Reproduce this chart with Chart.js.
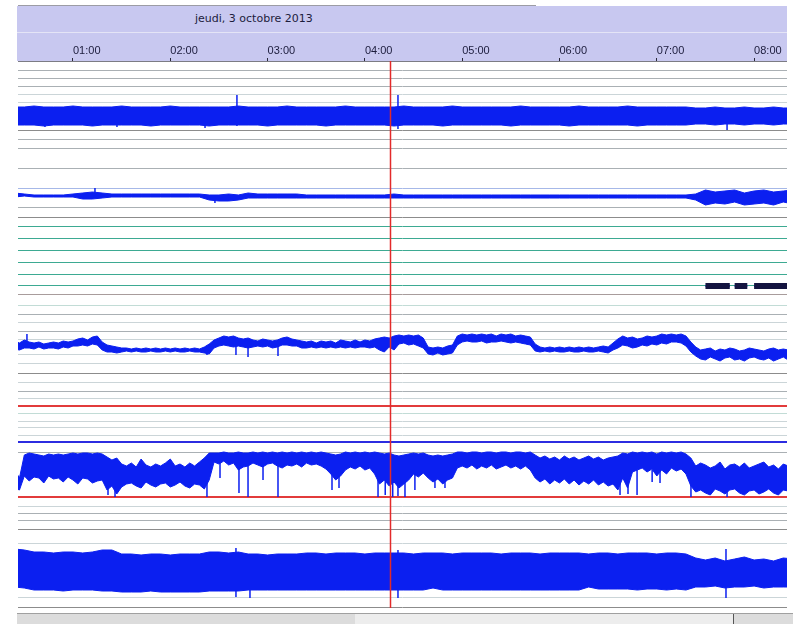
<!DOCTYPE html>
<html lang="fr">
<head>
<meta charset="utf-8">
<title>Enregistrement nocturne</title>
<script src="https://cdn.jsdelivr.net/npm/chart.js@4.4.1/dist/chart.umd.min.js"></script>
<style>
  html, body { margin: 0; padding: 0; background: #fff; }
  body { position: relative; width: 793px; height: 624px; overflow: hidden; }
  .abs { position: absolute; }
  #topRule { left: 18px; top: 5px; width: 518px; height: 1px; background: #9c9ca4; }
  #header { left: 17px; top: 6px; width: 770px; height: 55px; background: #c8c8f0; }
  #headerSep { left: 17px; top: 32px; width: 770px; height: 1px; background: #e4e4f6; }
  #date { left: 195px; top: 12px; font: 11px "DejaVu Sans", sans-serif; color: #1c1c3c; white-space: nowrap; }
  canvas { position: absolute; left: 18px; }
  #scroll { left: 17px; top: 613px; width: 776px; height: 11px; background: #dcdcdc; border-top: 1px solid #a0a0a0; }
  #thumb { left: 355px; top: 614px; width: 378px; height: 10px; background: #ededed; border-right: 1px solid #555; }
</style>
</head>
<body>
<div id="topRule" class="abs"></div>
<div id="header" class="abs"></div>
<div id="headerSep" class="abs"></div>
<div id="date" class="abs">jeudi, 3 octobre 2013</div>
<canvas id="c-eeg" width="769" height="127" style="top:33px"></canvas>
<canvas id="c-flow" width="769" height="62" style="top:160px"></canvas>
<canvas id="c-pos" width="769" height="78" style="top:222px"></canvas>
<canvas id="c-thorax" width="769" height="78" style="top:300px"></canvas>
<canvas id="c-spo2" width="769" height="140" style="top:378px"></canvas>
<canvas id="c-abdo" width="769" height="90" style="top:518px"></canvas>
<div id="scroll" class="abs"></div>
<div id="thumb" class="abs"></div>
<script>
// ---- time axis (hours after midnight) ----
const viewStart = 0.435;
const viewEnd = 8.338;
const hourTicks = [1, 2, 3, 4, 5, 6, 7, 8];
const cursorHour = 4.258;

// sampling instants of the decimated envelopes (6-minute bins)
const hours = [0.4,0.5,0.6,0.7,0.8,0.9,1.0,1.1,1.2,1.3,1.4,1.5,1.6,1.7,1.8,1.9,2.0,2.1,2.2,2.3,
  2.4,2.5,2.6,2.7,2.8,2.9,3.0,3.1,3.2,3.3,3.4,3.5,3.6,3.7,3.8,3.9,4.0,4.1,4.2,4.3,
  4.4,4.5,4.6,4.7,4.8,4.9,5.0,5.1,5.2,5.3,5.4,5.5,5.6,5.7,5.8,5.9,6.0,6.1,6.2,6.3,
  6.4,6.5,6.6,6.7,6.8,6.9,7.0,7.1,7.2,7.3,7.4,7.5,7.6,7.7,7.8,7.9,8.0,8.1,8.2,8.3,8.4];

// finer sampling (3-minute bins) for the respiratory channels
const fineHours = [0.40,0.45,0.50,0.55,0.60,0.65,0.70,0.75,0.80,0.85,0.90,0.95,1.00,1.05,1.10,1.15,1.20,1.25,1.30,1.35,
  1.40,1.45,1.50,1.55,1.60,1.65,1.70,1.75,1.80,1.85,1.90,1.95,2.00,2.05,2.10,2.15,2.20,2.25,2.30,2.35,
  2.40,2.45,2.50,2.55,2.60,2.65,2.70,2.75,2.80,2.85,2.90,2.95,3.00,3.05,3.10,3.15,3.20,3.25,3.30,3.35,
  3.40,3.45,3.50,3.55,3.60,3.65,3.70,3.75,3.80,3.85,3.90,3.95,4.00,4.05,4.10,4.15,4.20,4.25,4.30,4.35,
  4.40,4.45,4.50,4.55,4.60,4.65,4.70,4.75,4.80,4.85,4.90,4.95,5.00,5.05,5.10,5.15,5.20,5.25,5.30,5.35,
  5.40,5.45,5.50,5.55,5.60,5.65,5.70,5.75,5.80,5.85,5.90,5.95,6.00,6.05,6.10,6.15,6.20,6.25,6.30,6.35,
  6.40,6.45,6.50,6.55,6.60,6.65,6.70,6.75,6.80,6.85,6.90,6.95,7.00,7.05,7.10,7.15,7.20,7.25,7.30,7.35,
  7.40,7.45,7.50,7.55,7.60,7.65,7.70,7.75,7.80,7.85,7.90,7.95,8.00,8.05,8.10,8.15,8.20,8.25,8.30,8.35,
  8.40];

// EEG channel: max / min per bin, and isolated artefacts [hour, top, bottom]
const eegHigh = [9,9,10,9,9,9,10,9,9,9, 9,10,9,9,9,9,10,9,9,9, 9,9,9,10,9,9,9,9,10,9,
  9,9,9,9,10,9,9,9,9,9, 10,9,9,9,9,10,9,9,9,9, 9,9,10,9,9,9,9,9,10,9,
  9,9,9,10,9,9,9,9,9,9, 8,8,9,8,8,9,8,8,9,8, 8];
const eegLow = [-9,-9,-9,-10,-9,-9,-9,-9,-10,-9, -9,-9,-9,-9,-10,-9,-9,-9,-9,-9, -10,-9,-9,-9,-9,-9,-10,-9,-9,-9,
  -9,-9,-10,-9,-9,-9,-9,-9,-9,-10, -9,-9,-9,-9,-10,-9,-9,-9,-9,-9, -9,-10,-9,-9,-9,-9,-9,-10,-9,-9,
  -9,-9,-9,-9,-10,-9,-9,-9,-9,-9, -8,-8,-9,-8,-8,-9,-8,-8,-9,-8, -8];
const eegSpikes = [[0.712, 0, -11], [1.452, 0, -11], [2.357, 0, -12], [2.685, 21, -10], [4.340, 21, -13], [7.722, 0, -14]];

// airflow channel
const flowHigh = [3,2,1,1,1,1,2,3,4,3, 2,2,2,2,2,2,2,2,2,2, 1,1,2,1,3,2,2,2,2,2,
  1,1,1,1,1,1,1,1,1,2, 1,1,1,1,1,1,1,1,1,1, 1,1,1,1,1,1,1,1,1,1,
  1,1,1,1,1,1,1,1,1,1, 2,6,4,5,6,3,5,6,4,5, 6];
const flowLow = [-1,0,-1,-1,-1,-1,-1,-3,-3,-2, -1,-1,-1,-1,-1,-1,-1,-1,-1,-1, -4,-5,-5,-4,-2,-2,-2,-2,-2,-2,
  -2,-2,-2,-2,-2,-2,-2,-2,-2,-2, -2,-2,-2,-2,-2,-2,-2,-2,-2,-2, -2,-2,-2,-2,-2,-2,-2,-2,-2,-2,
  -2,-2,-2,-2,-2,-2,-2,-2,-2,-2, -4,-9,-7,-8,-6,-9,-8,-7,-9,-6, -8];
const flowSpikes = [[1.226, 8, 0], [2.459, 0, -7]];

// scored events (start / end, hours) on the event channel
const eventStarts = [7.50, 7.80, 8.00];
const eventEnds = [7.75, 7.93, 8.34];
const eventLevel = 0;

// thoracic effort channel (fine bins)
const thoraxHigh = [6,4,7,5,4,5,3,4,5,4, 6,5,6,8,9,7,10,11,5,2, 1,0,-1,-1,-2,-1,-2,-1,-2,-1,
  -2,-1,-2,-1,-2,-1,-2,-1,-2,0, 3,7,9,11,10,11,9,8,9,7, 6,8,7,6,7,9,10,8,7,6,
  5,6,4,6,5,6,4,7,6,5, 7,5,7,6,8,9,10,9,11,12, 11,12,11,12,9,0,-1,0,-1,1,
  2,11,13,12,13,12,13,12,13,11, 13,12,13,11,12,11,10,3,0,-1, 0,-1,0,-1,0,-1,0,-1,0,-1,
  0,1,0,4,8,11,9,10,8,9, 11,10,11,13,12,13,12,13,11,5, 0,-3,-2,-1,-4,-2,-3,-1,-2,-4,
  -3,-1,-2,-3,-4,-2,-1,-3,-2,-3, -2];
const thoraxLow = [-2,-3,-1,-1,-2,0,-2,-1,-1,-2, 0,-1,1,1,2,1,3,2,-3,-5, -5,-6,-5,-4,-5,-4,-5,-5,-4,-5,
  -5,-4,-5,-4,-5,-5,-4,-5,-5,-6, -7,-1,1,2,1,0,1,0,-1,0, 1,0,1,-1,0,2,2,1,1,-1,
  -1,0,-1,0,-1,0,-1,0,-1,0, -1,0,0,-1,0,-3,-5,0,-3,3, 4,2,3,1,-1,-7,-8,-6,-8,-7,
  -6,2,5,6,5,5,6,4,5,5, 6,5,4,5,4,3,2,-4,-5,-4, -5,-4,-5,-5,-4,-5,-5,-4,-5,-5,
  -4,-5,-6,-3,-1,2,1,-1,0,2, 1,3,2,4,3,5,5,4,1,-5, -9,-12,-13,-10,-12,-14,-11,-10,-13,-12,
  -14,-11,-10,-12,-13,-11,-14,-12,-10,-13, -11];
const thoraxSpikes = [[0.527, 13, 0], [2.377, 0, -8], [2.675, 5, -8], [2.799, 5, -10], [3.107, 5, -9]];

// oximetry channel (fine bins)
const spo2High = [5,-3,20,22,21,20,19,21,20,21, 20,21,22,21,22,22,21,22,21,18, 15,17,11,9,12,8,16,10,8,11,
  9,12,16,9,11,8,12,9,13,17, 22,22,22,23,22,22,23,22,22,23, 22,23,22,23,22,23,22,23,22,23,
  22,23,22,23,22,21,20,21,23,22, 23,22,23,22,23,22,21,22,20,19, 20,21,22,21,22,20,19,20,19,20,
  21,23,23,22,23,23,22,23,23,22, 23,23,22,23,23,22,23,20,17,19, 16,18,15,19,16,18,15,17,19,16,
  18,15,17,18,19,22,21,23,22,23, 22,23,21,23,22,23,22,23,21,17, 9,12,10,7,9,13,6,10,11,8,
  12,7,9,11,13,8,10,6,11,9, 10];
const spo2Low = [-13,-15,-1,-6,-2,-3,-8,-1,-4,-3, -7,-2,-5,-9,-3,-4,-8,-6,-5,-15, -11,-19,-12,-9,-8,-11,-13,-7,-10,-12,
  -9,-8,-12,-10,-7,-11,-13,-9,-10,-14, -5,13,11,14,10,12,5,8,9,12, 10,8,11,12,9,7,10,9,11,8,
  12,10,11,9,6,1,-5,-1,5,8, 6,9,5,7,1,-9,-5,-11,-7,-13, -9,-5,1,-2,2,-3,-7,-4,-9,-5,
  -3,7,9,7,10,6,9,7,10,6, 8,10,7,9,6,9,5,-3,-7,-4, -9,-5,-8,-4,-9,-5,-10,-6,-9,-5,
  -10,-7,-11,-9,-15,-3,-13,3,5,7, 3,6,-1,5,1,7,4,6,1,-11, -17,-15,-18,-20,-14,-16,-19,-15,-14,-18,
  -20,-16,-15,-19,-17,-14,-18,-20,-15,-16, -17];
const spo2Spikes = [[1.360,0,-20],[1.432,0,-22],[2.377,0,-22],[2.511,12,-3],[2.706,12,-18],[2.799,12,-22],
  [2.953,12,-5],[3.107,12,-22],[3.662,5,-15],[3.734,5,-13],[4.135,5,-22],[4.209,5,-20],[4.286,5,-22],
  [4.340,5,-21],[4.412,5,-22],[4.514,5,-15],[4.720,5,-13],[4.823,5,-13],[6.622,5,-20],[6.704,5,-19],
  [6.797,5,-20],[6.952,5,-7],[7.033,5,-8],[7.351,5,-22],[7.722,5,-22]];

// abdominal effort channel
const abdoHigh = [22,21,19,19,18,19,19,18,19,21, 21,17,17,16,17,17,16,17,17,17, 19,19,18,19,17,17,16,17,17,17,
  18,18,17,18,18,18,17,18,18,18, 18,17,18,18,18,17,18,18,18,18, 17,18,18,18,17,18,18,18,18,17,
  18,18,17,18,18,18,17,18,18,17, 13,11,13,10,12,14,11,12,10,13, 12];
const abdoLow = [-16,-17,-19,-19,-19,-20,-19,-19,-19,-20, -20,-21,-21,-21,-20,-21,-21,-21,-21,-21, -20,-20,-20,-20,-19,-19,-19,-19,-19,-19,
  -19,-19,-19,-19,-19,-19,-19,-19,-19,-19, -19,-19,-19,-17,-19,-19,-19,-19,-19,-19, -19,-19,-19,-19,-19,-19,-19,-19,-19,-16,
  -18,-18,-18,-18,-19,-18,-18,-19,-18,-19, -16,-16,-15,-17,-16,-16,-15,-17,-16,-16, -16];
const abdoSpikes = [[2.675, 23, -26], [2.819, 0, -27], [4.340, 21, -27], [7.711, 22, -27]];

// reference lines of each channel (values in channel units)
const eegGrid = [46, 38, 30, 22, 14, -14, -23, -32];
const flowGrid = [28, 8, -11, -21];
const posGrid = [5, 4, 3, 2, 1, 0, -0.76];
const thoraxGrid = [42, 33, 24, 16, 8, -8, -16, -26];
const spo2Grid = [92, 84, 77, 69, 62, 54, 47, 40, 33, 23, -22, -31, -38];
const abdoGrid = [50, 41, 28, -26, -36];

// ---- styling ----
const TRACE = '#0b1ff0';
const palette = {
  d: '#8c8c8c', m: '#aab0b4', l: '#cbd5d8', t: '#3daa92', p: '#a89c9c',
  r: '#e23b3b', b: '#2c2ce0', lb: '#a6b8e8', lt: '#c2dcd6'
};

const tracks = [
  { id: 'c-eeg', min: -44, max: 55, grid: eegGrid, style: ['m','m','m','l','l','d','m','m'], timeAxis: true,
    env: [hours, eegHigh, eegLow, eegSpikes] },
  { id: 'c-flow', min: -26, max: 36, grid: flowGrid, style: ['m','lb','m','d'],
    env: [hours, flowHigh, flowLow, flowSpikes] },
  { id: 'c-pos', min: -1.19, max: 5.42, grid: posGrid, style: ['t','t','t','t','t','t','p'],
    events: true },
  { id: 'c-thorax', min: -31, max: 47, grid: thoraxGrid, style: ['lt','m','l','m','l','l','l','d'],
    env: [fineHours, thoraxHigh, thoraxLow, thoraxSpikes] },
  { id: 'c-spo2', min: -43, max: 97, grid: spo2Grid, style: ['l','m','l','r','lt','l','l','l','b','m','r','l','m'],
    env: [fineHours, spo2High, spo2Low, spo2Spikes] },
  { id: 'c-abdo', min: -37, max: 53, grid: abdoGrid, style: ['m','d','l','l','d'],
    env: [hours, abdoHigh, abdoLow, abdoSpikes] }
];

const cursorPlugin = {
  id: 'cursor',
  afterDatasetsDraw(chart) {
    const { ctx, chartArea, scales } = chart;
    const x = Math.round(scales.x.getPixelForValue(cursorHour)) + 0.5;
    ctx.save();
    ctx.strokeStyle = '#e32a2a';
    ctx.lineWidth = 1.5;
    ctx.beginPath();
    ctx.moveTo(x, chartArea.top);
    ctx.lineTo(x, chartArea.bottom);
    ctx.stroke();
    ctx.restore();
  }
};

function envelopeDatasets(times, high, low, spikes) {
  const upper = times.map((t, i) => ({ x: t, y: high[i] }));
  const lower = times.map((t, i) => ({ x: t, y: low[i] }));
  const bursts = spikes.flatMap(([t, top, bottom]) => [{ x: t, y: bottom }, { x: t, y: top }, { x: t, y: null }]);
  return [
    { data: upper, borderColor: TRACE, backgroundColor: TRACE, borderWidth: 1, fill: '+1' },
    { data: lower, borderColor: TRACE, borderWidth: 1, fill: false },
    { data: bursts, borderColor: TRACE, borderWidth: 1.5, fill: false, spanGaps: false }
  ];
}

function eventDatasets() {
  const segs = eventStarts.flatMap((s, i) => [{ x: s, y: eventLevel }, { x: eventEnds[i], y: eventLevel }, { x: eventEnds[i], y: null }]);
  return [
    { data: segs, borderColor: '#141440', borderWidth: 6, borderCapStyle: 'butt', fill: false, spanGaps: false },
    { data: segs, borderColor: '#1d2bd6', borderWidth: 2, borderCapStyle: 'butt', fill: false, spanGaps: false }
  ];
}

function timeAxis(show) {
  if (!show) return { type: 'linear', min: viewStart, max: viewEnd, display: false };
  return {
    type: 'linear', position: 'top', min: viewStart, max: viewEnd,
    afterBuildTicks: s => { s.ticks = hourTicks.map(v => ({ value: v })); },
    afterFit: s => { s.height = 28; },
    ticks: {
      align: 'start', padding: 0, color: '#1c1c3c', autoSkip: false, maxRotation: 0,
      font: { family: 'Liberation Sans', size: 11 },
      callback: v => String(v).padStart(2, '0') + ':00'
    },
    grid: { drawOnChartArea: false, drawTicks: true, tickLength: 3, color: '#2a2a3a', lineWidth: 1 },
    border: { display: true, color: '#7c7c84', width: 1 }
  };
}

tracks.forEach(track => {
  const datasets = track.events ? eventDatasets() : envelopeDatasets(...track.env);
  const styleOf = v => track.style[track.grid.indexOf(v)] || 'm';
  new Chart(document.getElementById(track.id), {
    type: 'line',
    data: { datasets },
    options: {
      responsive: false, animation: false, devicePixelRatio: 1, events: [],
      layout: { padding: 0 },
      plugins: { legend: { display: false }, tooltip: { enabled: false } },
      elements: { point: { radius: 0 }, line: { tension: 0 } },
      scales: {
        x: timeAxis(!!track.timeAxis),
        y: {
          type: 'linear', min: track.min, max: track.max,
          afterBuildTicks: s => { s.ticks = track.grid.map(v => ({ value: v })); },
          afterFit: s => { s.width = 0; },
          ticks: { display: false },
          border: { display: false },
          grid: {
            drawTicks: false,
            color: ctx => palette[styleOf(ctx.tick.value)],
            lineWidth: ctx => (['r', 'b'].includes(styleOf(ctx.tick.value)) ? 2 : 1)
          }
        }
      }
    },
    plugins: [cursorPlugin]
  });
});
</script>
</body>
</html>
